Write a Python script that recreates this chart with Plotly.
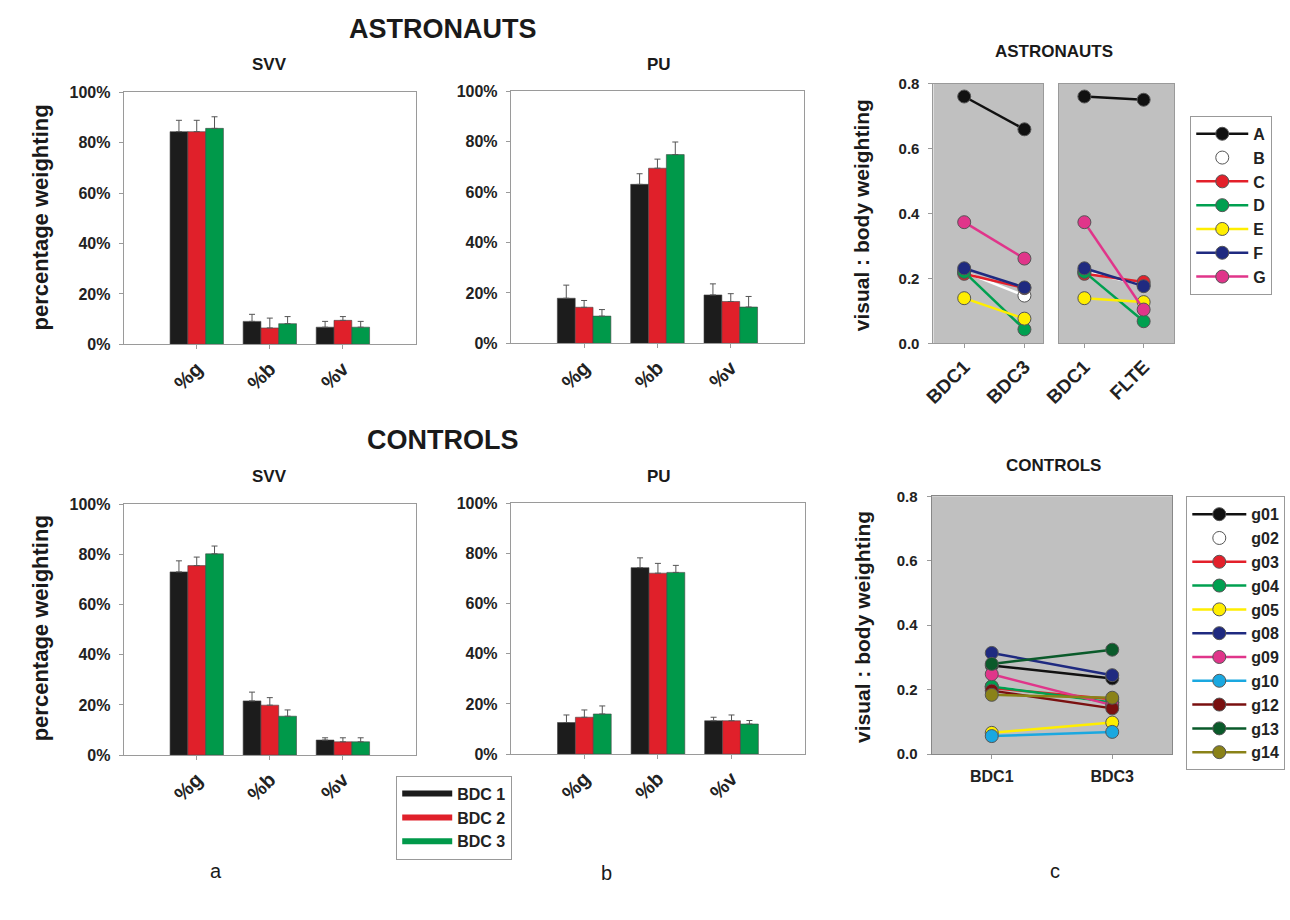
import plotly.graph_objects as go

W, H = 1290, 920

# ---------------- data ----------------
bar_cats = ["%g", "%b", "%v"]
bar_series = ["BDC 1", "BDC 2", "BDC 3"]
bar_colors = ["#1c1c1c", "#e0202a", "#00994a"]

astro_svv_mean = [[84.4, 9.1, 6.8], [84.4, 6.5, 9.5], [85.7, 8.2, 6.8]]
astro_svv_err = [[4.5, 2.8, 2.3], [4.5, 3.9, 1.5], [4.6, 2.8, 2.3]]
astro_pu_mean = [[17.9, 63.1, 19.2], [14.3, 69.5, 16.6], [10.8, 74.9, 14.4]]
astro_pu_err = [[5.2, 4.2, 4.4], [2.7, 3.6, 3.1], [2.6, 5.0, 4.2]]
ctrl_svv_mean = [[73.0, 21.6, 6.0], [75.5, 19.9, 5.3], [80.2, 15.5, 5.3]]
ctrl_svv_err = [[4.4, 3.5, 0.9], [3.4, 3.0, 1.6], [3.1, 2.5, 1.6]]
ctrl_pu_mean = [[12.6, 74.3, 13.3], [14.7, 72.1, 13.3], [16.0, 72.4, 12.0]]
ctrl_pu_err = [[3.0, 3.9, 1.4], [2.9, 3.9, 2.3], [3.2, 2.8, 1.4]]

pct_vals = [0, 20, 40, 60, 80, 100]
pct_text = ["0%", "20%", "40%", "60%", "80%", "100%"]

astro_ids = ["A", "B", "C", "D", "E", "F", "G"]
astro_colors = ["#111111", "#ffffff", "#e3202a", "#00a050", "#ffee00", "#1f2a80", "#e0358a"]
astro_bdc1 = [0.760, 0.220, 0.214, 0.220, 0.139, 0.231, 0.373]
astro_bdc3 = [0.659, 0.147, 0.170, 0.043, 0.076, 0.172, 0.261]
astro_flte = [0.750, 0.180, 0.189, 0.068, 0.127, 0.176, 0.104]

ctrl_ids = ["g01", "g02", "g03", "g04", "g05", "g08", "g09", "g10", "g12", "g13", "g14"]
ctrl_colors = ["#111111", "#ffffff", "#e3202a", "#00a050", "#ffee00", "#1f2a80",
               "#e0358a", "#1aa8e0", "#7a1010", "#0a5a2a", "#8a8218"]
ctrl_bdc1 = [0.275, 0.210, 0.205, 0.210, 0.066, 0.314, 0.248, 0.056, 0.197, 0.280, 0.184]
ctrl_bdc3 = [0.235, 0.160, 0.170, 0.160, 0.098, 0.245, 0.152, 0.069, 0.142, 0.324, 0.175]

line_vals = [0.0, 0.2, 0.4, 0.6, 0.8]
line_text = ["0.0", "0.2", "0.4", "0.6", "0.8"]

FONT = "Liberation Sans"
AX = "#9a9a9a"
TXT = "#222222"

fig = go.Figure()

def xd(a, b):
    return [a / W, b / W]

def yd(top, bot):
    return [1 - bot / H, 1 - top / H]

def bfont(size):
    return dict(family=FONT, size=size, color=TXT, weight="bold")

# ---------------- bar panels ----------------
bar_panels = [
    (1, astro_svv_mean, astro_svv_err),
    (2, astro_pu_mean, astro_pu_err),
    (3, ctrl_svv_mean, ctrl_svv_err),
    (4, ctrl_pu_mean, ctrl_pu_err),
]
for idx, means, errs in bar_panels:
    sfx = "" if idx == 1 else str(idx)
    for s in range(3):
        fig.add_trace(go.Bar(
            x=bar_cats, y=means[s], name=bar_series[s],
            marker=dict(color=bar_colors[s], line=dict(color="#444", width=0.6)),
            error_y=dict(type="data", array=errs[s], arrayminus=[0, 0, 0], symmetric=False,
                         color="#555", thickness=1, width=3),
            xaxis="x" + sfx, yaxis="y" + sfx, showlegend=False, offsetgroup=str(s),
        ))

# bar legend entries (line symbols)
for s in range(3):
    fig.add_trace(go.Scatter(
        x=[None], y=[None], mode="lines", name=bar_series[s],
        line=dict(color=bar_colors[s], width=6), legend="legend",
        xaxis="x4", yaxis="y4",
    ))

# ---------------- line panels ----------------
def add_lines(ids, colors, v1, v2, cats, ax, legend, show):
    for i, name in enumerate(ids):
        fig.add_trace(go.Scatter(
            x=cats, y=[v1[i], v2[i]], mode="lines+markers", name=name,
            line=dict(color=colors[i], width=2.5),
            marker=dict(color=colors[i], size=13, line=dict(color="#555", width=1)),
            xaxis="x" + ax, yaxis="y" + ax, legend=legend, showlegend=show,
            legendgroup=legend + name,
        ))

add_lines(astro_ids, astro_colors, astro_bdc1, astro_bdc3, ["BDC1", "BDC3"], "5", "legend2", True)
add_lines(astro_ids, astro_colors, astro_bdc1, astro_flte, ["BDC1", "FLTE"], "6", "legend2", False)
add_lines(ctrl_ids, ctrl_colors, ctrl_bdc1, ctrl_bdc3, ["BDC1", "BDC3"], "7", "legend3", True)

# ---------------- axes ----------------
bar_geom = {1: ((109, 405), (85, 342)), 2: ((501, 798), (84, 341)),
            3: ((109, 405), (505, 761)), 4: ((501, 799), (504, 760))}
lay = {}
for idx, ((x0, x1), (t, b)) in bar_geom.items():
    sfx = "" if idx == 1 else str(idx)
    lay["xaxis" + sfx] = dict(domain=xd(x0, x1), anchor="y" + sfx, range=[-1, 3],
                              showline=True, linecolor=AX, mirror=True, ticks="outside",
                              ticklen=4, tickcolor=AX, tickangle=-45, tickfont=bfont(20),
                              showgrid=False, zeroline=False, fixedrange=True)
    lay["yaxis" + sfx] = dict(domain=yd(t, b), anchor="x" + sfx, range=[0, 100],
                              tickvals=pct_vals, ticktext=pct_text, showline=True,
                              linecolor=AX, mirror=True, ticks="outside", ticklen=4,
                              tickcolor=AX, tickfont=bfont(16), showgrid=False,
                              zeroline=False, ticklabelstandoff=5)

GRAY = "#c0c0c0"
lay["xaxis5"] = dict(domain=xd(929, 1040), anchor="y5", range=[-0.51, 1.31], showline=True,
                     linecolor=AX, mirror=True, ticks="outside", ticklen=4, tickcolor=AX,
                     tickangle=-45, tickfont=bfont(19), showgrid=False, zeroline=False)
lay["yaxis5"] = dict(domain=yd(76, 341), anchor="x5", range=[0, 0.8], tickvals=line_vals,
                     ticktext=line_text, showline=True, linecolor=AX, mirror=True,
                     ticks="outside", ticklen=4, tickcolor=AX, tickfont=bfont(15),
                     showgrid=False, zeroline=False, ticklabelstandoff=6)
lay["xaxis6"] = dict(domain=xd(1056, 1173), anchor="y6", range=[-0.43, 1.52], showline=True,
                     linecolor=AX, mirror=True, ticks="outside", ticklen=4, tickcolor=AX,
                     tickangle=-45, tickfont=bfont(19), showgrid=False, zeroline=False)
lay["yaxis6"] = dict(domain=yd(76, 341), anchor="x6", range=[0, 0.8], showticklabels=False,
                     showline=True, linecolor=AX, mirror=True, ticks="", showgrid=False,
                     zeroline=False)
lay["xaxis7"] = dict(domain=xd(927, 1171), anchor="y7", range=[-0.5, 1.5], showline=True,
                     linecolor="#888", mirror=True, ticks="outside", ticklen=4, tickcolor=AX,
                     tickangle=0, tickfont=bfont(16), showgrid=False, zeroline=False,
                     ticklabelstandoff=4)
lay["yaxis7"] = dict(domain=yd(497, 760), anchor="x7", range=[0, 0.8], tickvals=line_vals,
                     ticktext=line_text, showline=True, linecolor="#888", mirror=True,
                     ticks="outside", ticklen=4, tickcolor=AX, tickfont=bfont(15),
                     showgrid=False, zeroline=False, ticklabelstandoff=6)

fig.update_layout(**lay)

# gray backgrounds for line panels
for ax in ["5", "6", "7"]:
    fig.add_shape(type="rect", xref="x" + ax + " domain", yref="y" + ax + " domain",
                  x0=0, x1=1, y0=0, y1=1, fillcolor=GRAY, line=dict(width=0), layer="below")

# ---------------- annotations ----------------
def ann(text, x, y, size, bold=True, angle=0):
    fig.add_annotation(text=text, x=x / W, y=1 - y / H, xref="paper", yref="paper",
                       showarrow=False, textangle=angle, xanchor="center", yanchor="middle",
                       font=dict(family=FONT, size=size, color="#1a1a1a",
                                 weight="bold" if bold else "normal"))

ann("ASTRONAUTS", 432, 20, 27)
ann("CONTROLS", 432, 440, 27)
ann("SVV", 257, 57, 17)
ann("PU", 651, 57, 17)
ann("SVV", 257, 477, 17)
ann("PU", 651, 477, 17)
ann("ASTRONAUTS", 1051, 43, 17)
ann("CONTROLS", 1051, 466, 17)
ann("percentage weighting", 25, 213, 22, angle=-90)
ann("percentage weighting", 25, 632, 22, angle=-90)
ann("visual : body weighting", 857, 210, 21, angle=-90)
ann("visual : body weighting", 857, 630, 21, angle=-90)
ann("a", 203, 879, 20, bold=False)
ann("b", 598, 881, 20, bold=False)
ann("c", 1052, 879, 20, bold=False)

fig.update_layout(
    width=W, height=H, margin=dict(l=0, r=0, t=0, b=0),
    paper_bgcolor="white", plot_bgcolor="white",
    barmode="group", bargap=0.27, bargroupgap=0,
    legend=dict(x=385 / W, y=1 - 782 / H, xanchor="left", yanchor="top",
                bordercolor="#999", borderwidth=1, font=bfont(16), bgcolor="white",
                tracegroupgap=0, itemwidth=50),
    legend2=dict(x=1189 / W, y=1 - 109 / H, xanchor="left", yanchor="top",
                 bordercolor="#999", borderwidth=1, font=bfont(16), bgcolor="white",
                 tracegroupgap=0, itemwidth=52),
    legend3=dict(x=1185 / W, y=1 - 497 / H, xanchor="left", yanchor="top",
                 bordercolor="#999", borderwidth=1, font=bfont(16), bgcolor="white",
                 tracegroupgap=0, itemwidth=54),
    showlegend=True,
)

fig.write_html("out.html")
